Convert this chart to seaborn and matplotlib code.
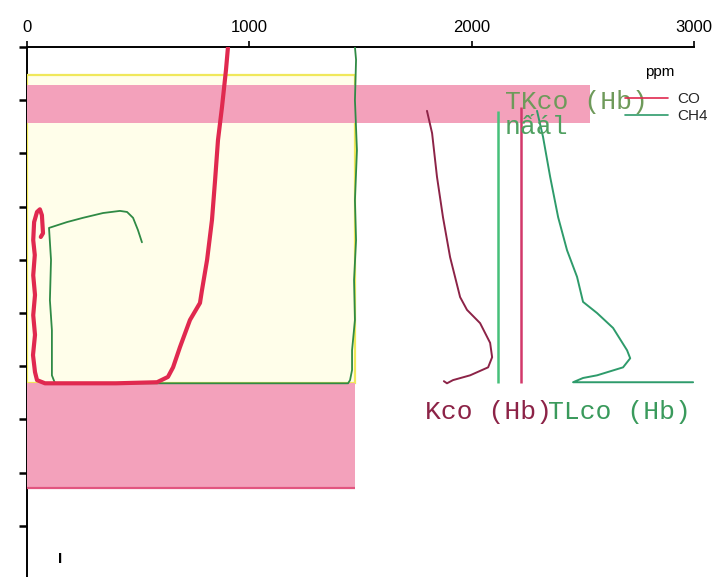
import matplotlib
matplotlib.use("Agg")
import matplotlib.pyplot as plt
import seaborn as sns
import pandas as pd
from matplotlib.patches import Rectangle
from matplotlib.lines import Line2D

# ---------------- data ----------------
x_ticks = [0, 1000, 2000, 3000]
x_tick_labels = ["0", "1000", "2000", "3000"]
depth_ticks = [0, 1, 2, 3, 4, 5, 6, 7, 8, 9]

# CO profile (thick red)
co_ppm = [904, 895, 877, 859, 846, 832, 810, 787, 778, 733, 688, 657, 634, 585,
          400, 200, 81, 45, 36, 27, 36, 28, 36, 28, 35, 28, 32, 45, 58, 67, 72, 62]
co_depth = [0.00, 0.43, 1.13, 1.75, 2.50, 3.25, 4.00, 4.57, 4.81, 5.13, 5.64, 6.02, 6.20, 6.30,
            6.32, 6.32, 6.32, 6.26, 6.11, 5.79, 5.41, 5.04, 4.66, 4.29, 3.91, 3.63, 3.29, 3.10,
            3.05, 3.16, 3.50, 3.57]

# CH4 profile (thin green)
ch4_ppm = [1475, 1480, 1475, 1484, 1475, 1480, 1471, 1475, 1462, 1462, 1453, 1444,
           126, 112, 112, 103, 108, 99, 180, 252, 342, 418, 450, 477, 499, 517]
ch4_depth = [0.00, 0.24, 1.00, 1.94, 2.88, 3.63, 4.38, 5.13, 5.70, 6.07, 6.26, 6.32,
             6.32, 6.17, 5.32, 4.76, 4.00, 3.40, 3.29, 3.21, 3.12, 3.08, 3.10, 3.21, 3.44, 3.67]

# Kco(Hb) profile (maroon)
kco_ppm = [1799, 1822, 1844, 1871, 1903, 1948, 1979, 2038, 2083, 2092, 2074, 1993, 1916, 1889, 1875]
kco_depth = [1.20, 1.62, 2.44, 3.20, 3.95, 4.70, 4.94, 5.19, 5.56, 5.83, 6.02, 6.17, 6.26, 6.32, 6.28]

# TLco(Hb) profile (green)
tlco_ppm = [2294, 2321, 2353, 2389, 2429, 2474, 2501, 2564, 2636, 2699, 2713, 2681,
            2564, 2501, 2456, 2996]
tlco_depth = [1.20, 1.69, 2.44, 3.20, 3.82, 4.32, 4.79, 5.00, 5.28, 5.70, 5.85, 6.02,
              6.17, 6.22, 6.30, 6.30]

# reference verticals
ref_ppm = [2119, 2222]
ref_top = [1.20, 1.13]
ref_bottom = [6.32, 6.32]

# shaded zones: (x_end ppm, depth_top, depth_bottom)
zone_light = (1477, 0.53, 6.32)
zone_pink_top = (2533, 0.71, 1.43)
zone_pink_low = (1477, 6.32, 8.29)

# ---------------- styling ----------------
sns.set_theme(style="white")
plt.rcParams["font.family"] = ["Liberation Sans", "DejaVu Sans"]

C_CO = "#E0294F"
C_CH4 = "#2F8A45"
C_KCO = "#8C2347"
C_TLCO = "#2E9B6B"
C_PINK = "#F3A1BB"
C_IVORY = "#FFFEEA"
C_YEL = "#F0E85A"

fig = plt.figure(figsize=(7.22, 5.77), dpi=100)
ax = fig.add_axes([27 / 722, 0, 667 / 722, 530 / 577])
ax.set_facecolor("white")

# zones
ax.add_patch(Rectangle((0, zone_light[1]), zone_light[0], zone_light[2] - zone_light[1],
                       facecolor=C_IVORY, edgecolor=C_YEL, lw=1.6, zorder=3))
ax.add_patch(Rectangle((0, zone_pink_top[1]), zone_pink_top[0], zone_pink_top[2] - zone_pink_top[1],
                       facecolor=C_PINK, edgecolor="none", zorder=3.1))
ax.add_patch(Rectangle((0, zone_pink_low[1]), zone_pink_low[0], zone_pink_low[2] - zone_pink_low[1],
                       facecolor=C_PINK, edgecolor="none", zorder=3.1))
ax.hlines(zone_pink_low[2], 0, zone_pink_low[0], color="#E2557F", lw=1.6, zorder=3.2)

# profiles
df_co = pd.DataFrame({"ppm": co_ppm, "depth": co_depth})
df_ch4 = pd.DataFrame({"ppm": ch4_ppm, "depth": ch4_depth})
df_kco = pd.DataFrame({"ppm": kco_ppm, "depth": kco_depth})
df_tl = pd.DataFrame({"ppm": tlco_ppm, "depth": tlco_depth})

sns.lineplot(data=df_ch4, x="ppm", y="depth", sort=False, estimator=None,
             color=C_CH4, lw=1.3, ax=ax, zorder=5)
sns.lineplot(data=df_co, x="ppm", y="depth", sort=False, estimator=None,
             color=C_CO, lw=3.0, ax=ax, zorder=6)
sns.lineplot(data=df_kco, x="ppm", y="depth", sort=False, estimator=None,
             color=C_KCO, lw=1.4, ax=ax, zorder=5)
sns.lineplot(data=df_tl, x="ppm", y="depth", sort=False, estimator=None,
             color=C_TLCO, lw=1.4, ax=ax, zorder=5)
ax.vlines(ref_ppm[0], ref_top[0], ref_bottom[0], color="#47C07A", lw=1.8, zorder=5)
ax.vlines(ref_ppm[1], ref_top[1], ref_bottom[1], color="#D2386A", lw=1.8, zorder=5)

# axes
ax.set_xlim(0, 3000)
ax.set_ylim(9.96, 0)
ax.set_xlabel("")
ax.set_ylabel("")
ax.xaxis.tick_top()
ax.set_xticks(x_ticks)
ax.set_xticklabels(x_tick_labels)
ax.set_yticks(depth_ticks)
ax.tick_params(axis="x", top=True, bottom=False, direction="out", length=4, width=1.2,
               color="black", labelsize=12, pad=5, labelcolor="black")
ax.tick_params(axis="y", left=True, right=False, direction="out", length=6, width=1.8,
               color="black", labelleft=False)
for s in ["right", "bottom"]:
    ax.spines[s].set_visible(False)
for s in ["top", "left"]:
    ax.spines[s].set_visible(True)
    ax.spines[s].set_color("black")
    ax.spines[s].set_linewidth(1.4)
    ax.spines[s].set_zorder(2)

# texts
mono = ["Liberation Mono", "DejaVu Sans Mono"]
ax.text(2150, 1.03, "TKco (Hb)", family=mono, fontsize=19, color="#6E9A5A",
        va="center", ha="left", zorder=7)
ax.text(2150, 1.50, "nấál", family=mono, fontsize=19, color="#4FA060",
        va="center", ha="left", zorder=7)
ax.text(1790, 6.86, "Kco (Hb)", family=mono, fontsize=19, color=C_KCO,
        va="center", ha="left", zorder=7)
ax.text(2344, 6.86, "TLco (Hb)", family=mono, fontsize=19, color="#3A9A5C",
        va="center", ha="left", zorder=7)
ax.text(2847, 0.47, "ppm", fontsize=11, color="black", va="center", ha="center", zorder=7)
ax.text(148, 9.62, "I", fontsize=11, fontweight="bold", color="black",
        va="center", ha="center", zorder=7)

handles = [Line2D([], [], color=C_CO, lw=1.2), Line2D([], [], color=C_TLCO, lw=1.2)]
fig.legend(handles, ["CO", "CH4"], loc="upper left", bbox_to_anchor=(625 / 722, 1 - 92 / 577),
           bbox_transform=fig.transFigure, frameon=False, fontsize=11, handlelength=2.8,
           handletextpad=0.6, labelspacing=0.2, borderpad=0, borderaxespad=0)

fig.savefig("out.png", dpi=100)
